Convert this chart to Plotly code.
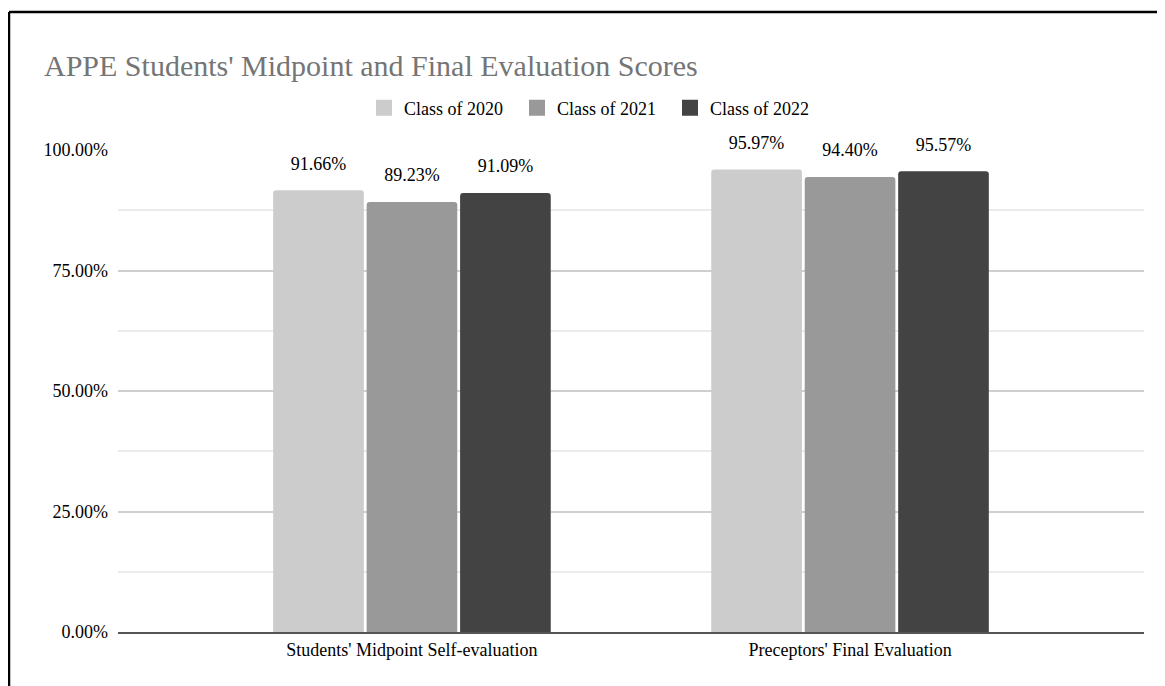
import plotly.graph_objects as go

categories = ["Students' Midpoint Self-evaluation", "Preceptors' Final Evaluation"]
series_names = ["Class of 2020", "Class of 2021", "Class of 2022"]
series_values = {
    "Class of 2020": [91.66, 95.97],
    "Class of 2021": [89.23, 94.40],
    "Class of 2022": [91.09, 95.57],
}
series_colors = {
    "Class of 2020": "#cccccc",
    "Class of 2021": "#999999",
    "Class of 2022": "#434343",
}
y_tick_values = [0, 25, 50, 75, 100]
y_tick_labels = ["0.00%", "25.00%", "50.00%", "75.00%", "100.00%"]
title_text = "APPE Students' Midpoint and Final Evaluation Scores"

FONT = "Liberation Serif, Times New Roman, serif"

W, H = 1157, 678
L, R, T, B = 110, 21, 142, 54

fig = go.Figure()
for name in series_names:
    fig.add_trace(go.Bar(
        x=categories, y=series_values[name], name=name,
        marker=dict(color=series_colors[name], line=dict(width=0)),
        offsetgroup=name, showlegend=False, hoverinfo="skip",
    ))
for name in series_names:
    fig.add_trace(go.Scatter(
        x=categories, y=series_values[name], name=name,
        mode="markers+text", offsetgroup=name,
        text=[f"{v:.2f}%" for v in series_values[name]],
        textposition="top center",
        textfont=dict(family=FONT, size=18, color="#000000"),
        marker=dict(size=24, opacity=0, color=series_colors[name]),
        cliponaxis=False, showlegend=False, hoverinfo="skip",
    ))
for name in series_names:
    fig.add_trace(go.Scatter(
        x=[None], y=[None], name=name, mode="markers",
        marker=dict(symbol="square", size=18, color=series_colors[name]),
        showlegend=True, hoverinfo="skip",
    ))

pw, ph = W - L - R, H - T - B
px2x = lambda p: (p - L) / pw
px2y = lambda p: (H - B - p) / ph
border = dict(color="#000000", width=2.5)
fig.add_shape(type="line", xref="paper", yref="paper",
              x0=px2x(1), x1=px2x(1200), y0=px2y(4), y1=px2y(4), line=border)
fig.add_shape(type="line", xref="paper", yref="paper",
              x0=px2x(1), x1=px2x(1), y0=px2y(4), y1=px2y(720), line=border)

fig.update_layout(
    width=W, height=H,
    margin=dict(l=L, r=R, t=T, b=B),
    paper_bgcolor="#ffffff", plot_bgcolor="#ffffff",
    barmode="group", bargap=0.36, bargroupgap=0.03, barcornerradius=3,
    scattermode="group", scattergap=0.36,
    font=dict(family=FONT, size=18, color="#000000"),
    title=dict(text=title_text, x=36 / W, xanchor="left", xref="container",
               y=1 - 57 / H, yanchor="middle", yref="container",
               font=dict(family=FONT, size=30, color="#757575")),
    legend=dict(orientation="h", x=px2x(356), xanchor="left",
                y=px2y(100), yanchor="middle", font=dict(family=FONT, size=18),
                itemsizing="trace", entrywidth=108, bgcolor="rgba(0,0,0,0)"),
    showlegend=True,
)
fig.update_xaxes(
    type="category", range=[-0.671, 1.671], showgrid=False,
    showline=True, linecolor="#555555", linewidth=2, ticks="",
    tickfont=dict(family=FONT, size=18, color="#000000"), zeroline=False,
)
fig.update_yaxes(
    range=[0, 100], tickmode="array", tickvals=y_tick_values, ticktext=y_tick_labels,
    showgrid=True, gridcolor="#cfcfcf", gridwidth=1.5, zeroline=False,
    minor=dict(dtick=12.5, showgrid=True, gridcolor="#ebebeb", gridwidth=1.5),
    showline=False, ticks="", ticklabelstandoff=9,
    tickfont=dict(family=FONT, size=18, color="#000000"),
)
fig.write_html("out.html")
